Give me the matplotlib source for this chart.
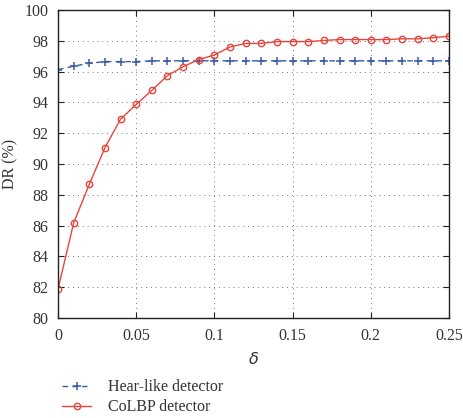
import matplotlib
matplotlib.use("Agg")
import matplotlib.pyplot as plt
import numpy as np

delta = [0.00, 0.01, 0.02, 0.03, 0.04, 0.05, 0.06, 0.07, 0.08, 0.09, 0.10, 0.11, 0.12,
         0.13, 0.14, 0.15, 0.16, 0.17, 0.18, 0.19, 0.20, 0.21, 0.22, 0.23, 0.24, 0.25]
haar = [96.13, 96.35, 96.54, 96.65, 96.65, 96.65, 96.7, 96.7, 96.7, 96.7, 96.7, 96.7, 96.7,
        96.7, 96.7, 96.7, 96.7, 96.7, 96.7, 96.7, 96.7, 96.7, 96.7, 96.7, 96.7, 96.7]
colbp = [81.87, 86.17, 88.68, 91.06, 92.91, 93.87, 94.78, 95.74, 96.32, 96.78, 97.08, 97.6, 97.83,
         97.83, 97.95, 97.95, 97.95, 98.02, 98.08, 98.08, 98.08, 98.08, 98.13, 98.13, 98.2, 98.3]
xticks = [0, 0.05, 0.1, 0.15, 0.2, 0.25]
xticklabels = ["0", "0.05", "0.1", "0.15", "0.2", "0.25"]
yticks = list(range(80, 101, 2))

plt.rcParams['font.family'] = ['Liberation Serif', 'DejaVu Serif']
plt.rcParams['font.size'] = 11.5

fig = plt.figure(figsize=(4.63, 4.18), dpi=100)
ax = fig.add_axes([58/463, 1 - 318/418, (449-58)/463, (318-10)/418])

ax.plot(delta, haar, linestyle=(0, (4, 3)), color='#3a5aa8', marker='+', markersize=5.5,
        markeredgewidth=1.1, linewidth=1.0, label='Hear-like detector')
ax.plot(delta, colbp, linestyle='-', color='#e8463c', marker='o', markersize=4.6,
        markerfacecolor='none', markeredgewidth=1.0, linewidth=1.0, label='CoLBP detector')

ax.set_xlim(0, 0.25)
ax.set_ylim(80, 100)
ax.set_xticks(xticks)
ax.set_xticklabels(xticklabels)
ax.set_yticks(yticks)
ax.grid(True, linestyle=(0, (1, 4)), color='#777777', linewidth=0.7)
ax.tick_params(direction='in', top=True, right=True, length=4, pad=7,
               color='#222222', labelcolor='#333333')
for s in ax.spines.values():
    s.set_linewidth(1.0)
    s.set_color('#222222')
ax.set_xlabel(r'$\delta$', color='#333333', labelpad=6)
ax.set_ylabel('DR (%)', color='#333333', labelpad=4)

leg = ax.legend(loc='upper left', bbox_to_anchor=(-0.005, -0.178), frameon=False,
                handlelength=1.8, handletextpad=1.05, labelspacing=0.25, borderaxespad=0)
for t in leg.get_texts():
    t.set_color('#333333')

fig.savefig('out.png', dpi=100)
